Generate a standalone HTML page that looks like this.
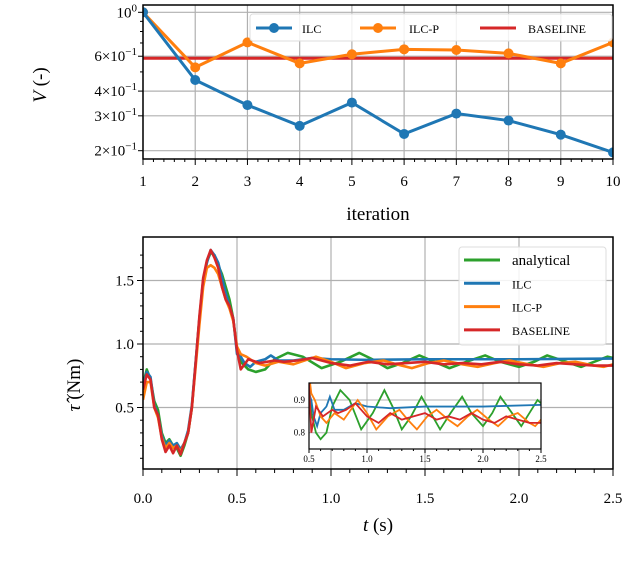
<!DOCTYPE html>
<html><head><meta charset="utf-8"><style>
body{margin:0;background:#fff;width:626px;height:572px;overflow:hidden}
svg{display:block;font-family:"Liberation Serif",serif}
</style></head><body>
<svg id="fig" width="626" height="572" viewBox="0 0 626 572" xmlns="http://www.w3.org/2000/svg">
</svg>
<script>
// ---- top chart data ----
const iterations=[1,2,3,4,5,6,7,8,9,10];
const ilcV=[1.0,0.455,0.34,0.267,0.35,0.243,0.308,0.284,0.241,0.196];
const ilcpV=[1.0,0.527,0.705,0.552,0.614,0.65,0.645,0.62,0.552,0.705];
const baselineV=0.586;
const topYTicks=[1,0.6,0.4,0.3,0.2];
const topYTickLabels=[["10","0"],["6×10","−1"],["4×10","−1"],["3×10","−1"],["2×10","−1"]];
// ---- bottom chart data ----
const transT=[0,0.02,0.04,0.06,0.08,0.1,0.12,0.14,0.16,0.18,0.2,0.22,0.24,0.26,0.28,0.3,0.32,0.34,0.36,0.38,0.4,0.42,0.44,0.46,0.48,0.5];
const anaTransV=[0.68,0.8,0.72,0.55,0.48,0.3,0.22,0.25,0.2,0.18,0.12,0.2,0.3,0.5,0.85,1.2,1.5,1.65,1.72,1.7,1.62,1.55,1.45,1.35,1.2,0.95];
const ilcTransV=[0.66,0.78,0.74,0.52,0.44,0.28,0.2,0.24,0.2,0.22,0.17,0.22,0.32,0.52,0.86,1.2,1.5,1.64,1.74,1.7,1.64,1.52,1.4,1.3,1.2,0.92];
const ilcpTransV=[0.56,0.7,0.7,0.5,0.42,0.26,0.18,0.22,0.18,0.2,0.15,0.22,0.3,0.5,0.82,1.15,1.45,1.6,1.62,1.6,1.55,1.45,1.35,1.28,1.18,0.98];
const baseTransV=[0.64,0.76,0.72,0.5,0.44,0.25,0.15,0.2,0.14,0.2,0.13,0.22,0.3,0.5,0.85,1.22,1.52,1.66,1.74,1.68,1.6,1.45,1.35,1.3,1.2,0.95];
const anaTailT=[0.52,0.56,0.6,0.65,0.7,0.77,0.85,0.95,1.05,1.15,1.22,1.3,1.38,1.47,1.55,1.63,1.72,1.82,1.9,2.0,2.08,2.15,2.25,2.33,2.4,2.47,2.5];
const anaTailV=[0.86,0.8,0.78,0.8,0.88,0.93,0.9,0.81,0.86,0.93,0.88,0.81,0.85,0.91,0.86,0.81,0.86,0.91,0.86,0.82,0.86,0.91,0.86,0.82,0.86,0.9,0.89];
const ilcTailT=[0.52,0.54,0.57,0.6,0.65,0.68,0.72,0.8,0.9,1.0,1.2,1.5,2.0,2.5];
const ilcTailV=[0.9,0.85,0.82,0.86,0.88,0.91,0.87,0.87,0.89,0.88,0.875,0.88,0.88,0.885];
const ilcpTailT=[0.52,0.55,0.6,0.65,0.72,0.8,0.92,1.0,1.08,1.18,1.28,1.35,1.43,1.52,1.6,1.7,1.78,1.87,1.95,2.05,2.13,2.22,2.3,2.4,2.45,2.5];
const ilcpTailV=[0.92,0.9,0.85,0.83,0.86,0.84,0.9,0.86,0.81,0.85,0.87,0.84,0.81,0.85,0.87,0.84,0.82,0.85,0.87,0.84,0.82,0.85,0.86,0.83,0.82,0.84];
const baseTailT=[0.52,0.56,0.62,0.7,0.75,0.82,0.9,1.0,1.1,1.2,1.3,1.4,1.5,1.6,1.7,1.8,1.9,2.0,2.1,2.2,2.3,2.4,2.5];
const baseTailV=[0.8,0.88,0.85,0.87,0.86,0.87,0.89,0.85,0.83,0.86,0.84,0.85,0.86,0.84,0.85,0.84,0.86,0.84,0.83,0.85,0.84,0.83,0.83];
const bottomXTicks=[0,0.5,1.0,1.5,2.0,2.5];
const bottomXTickLabels=["0.0","0.5","1.0","1.5","2.0","2.5"];
const bottomYTicks=[0.5,1.0,1.5];
const bottomYTickLabels=["0.5","1.0","1.5"];
const insetXTicks=[0.5,1.0,1.5,2.0,2.5];
const insetXTickLabels=["0.5","1.0","1.5","2.0","2.5"];
const insetYTicks=[0.8,0.9];
const insetYTickLabels=["0.8","0.9"];

const C={blue:"#1f77b4",orange:"#ff7f0e",red:"#d62728",green:"#2ca02c",grid:"#b0b0b0"};
const svg=document.getElementById('fig');
const NS="http://www.w3.org/2000/svg";
function mk(tag,attrs,parent){const e=document.createElementNS(NS,tag);for(const k in attrs)e.setAttribute(k,attrs[k]);(parent||svg).appendChild(e);return e;}

// ===== TOP =====
const tL=143,tR=613,tT=5,tB=159;
const tx=v=>tL+(v-1)/9*(tR-tL);
const ty=v=>12.3-Math.log10(v)*198;
const gTop=mk('g',{});


mk('defs',{}).innerHTML='<clipPath id="ct"><rect x="143" y="5" width="470" height="154"/></clipPath><clipPath id="cb"><rect x="143" y="237" width="470" height="232"/></clipPath><clipPath id="ci"><rect x="309" y="383" width="232" height="66"/></clipPath>';
iterations.forEach(i=>{const l=mk('line',{x1:tx(i),x2:tx(i),y1:tT,y2:tB,stroke:C.grid,'stroke-width':1.2},gTop);
});
topYTicks.forEach((v,k)=>{const l=mk('line',{x1:tL,x2:tR,y1:ty(v),y2:ty(v),stroke:C.grid,'stroke-width':1.2},gTop);

mk('line',{x1:tL-5,x2:tL,y1:ty(v),y2:ty(v),stroke:'#000','stroke-width':1},gTop);
const t=mk('text',{x:tL-6,y:ty(v)+5,'text-anchor':'end','font-size':15},gTop);

t.innerHTML=topYTickLabels[k][0]+'<tspan dy="-6" font-size="11">'+topYTickLabels[k][1]+'</tspan>';});
[0.9,0.8,0.7,0.5].forEach(v=>mk('line',{x1:tL-3,x2:tL,y1:ty(v),y2:ty(v),stroke:'#000','stroke-width':1},gTop));
iterations.forEach(i=>{mk('line',{x1:tx(i),x2:tx(i),y1:tB,y2:tB+6,stroke:'#000','stroke-width':1},gTop);
const t=mk('text',{x:tx(i),y:tB+27,'text-anchor':'middle','font-size':15},gTop);t.textContent=i;

if(i<10)for(let m=1;m<5;m++)mk('line',{x1:tx(i+m/5),x2:tx(i+m/5),y1:tB,y2:tB+3,stroke:'#000','stroke-width':1},gTop);});
const gTD=mk('g',{'clip-path':'url(#ct)'},gTop);
const bl=mk('line',{x1:tL,x2:tR,y1:ty(baselineV),y2:ty(baselineV),stroke:C.red,'stroke-width':3},gTD);

function series(vals,col,name){const p=mk('polyline',{points:vals.map((v,k)=>tx(iterations[k])+','+ty(v)).join(' '),fill:'none',stroke:col,'stroke-width':3},gTD);

vals.forEach((v,k)=>{const c=mk('circle',{cx:tx(iterations[k]),cy:ty(v),r:5,fill:col},gTD);
});}
series(ilcpV,C.orange,'ilc-p');series(ilcV,C.blue,'ilc');
mk('rect',{x:tL,y:tT,width:tR-tL,height:tB-tT,fill:'none',stroke:'#000','stroke-width':1.5},gTop);
const lgT=mk('g',{},gTop);
mk('rect',{x:250,y:14,width:362,height:27,rx:3,fill:'#fff','fill-opacity':0.85,stroke:'#ddd'},lgT);
[[C.blue,'ILC',256,302,true],[C.orange,'ILC-P',360,409,true],[C.red,'BASELINE',480,528,false]].forEach(e=>{
mk('line',{x1:e[2],x2:e[2]+36,y1:28,y2:28,stroke:e[0],'stroke-width':3},lgT);
if(e[4])mk('circle',{cx:e[2]+18,cy:28,r:5,fill:e[0]},lgT);
const t=mk('text',{x:e[3],y:33,'font-size':12},lgT);t.textContent=e[1];
});
let t1=mk('text',{x:0,y:0,'font-size':19,transform:'translate(46,85) rotate(-90)','text-anchor':'middle'},gTop);
t1.innerHTML='<tspan font-style="italic">V</tspan>  (-)';
t1=mk('text',{x:378,y:220,'font-size':19,'text-anchor':'middle'},gTop);t1.textContent='iteration';


// ===== BOTTOM =====
const bL=143,bR=613,bT=237,bB=469;
const bx=v=>bL+v/2.5*(bR-bL);
const by=v=>344-(v-1)*127;
const gB=mk('g',{});
bottomXTicks.forEach((v,k)=>{mk('line',{x1:bx(v),x2:bx(v),y1:bT,y2:bB,stroke:C.grid,'stroke-width':1.2},gB);
mk('line',{x1:bx(v),x2:bx(v),y1:bB,y2:bB+7,stroke:'#000'},gB);
const t=mk('text',{x:bx(v),y:bB+34,'text-anchor':'middle','font-size':15},gB);t.textContent=bottomXTickLabels[k];
});
for(let v=0;v<2.5;v+=0.1)mk('line',{x1:bx(v),x2:bx(v),y1:bB,y2:bB+4,stroke:'#000'},gB);
bottomYTicks.forEach((v,k)=>{mk('line',{x1:bL,x2:bR,y1:by(v),y2:by(v),stroke:C.grid,'stroke-width':1.2},gB);
mk('line',{x1:bL-6,x2:bL,y1:by(v),y2:by(v),stroke:'#000'},gB);
const t=mk('text',{x:bL-9,y:by(v)+5,'text-anchor':'end','font-size':15},gB);t.textContent=bottomYTickLabels[k];
});
for(let v=0.1;v<1.8;v+=0.1)mk('line',{x1:bL-3,x2:bL,y1:by(v),y2:by(v),stroke:'#000'},gB);
const all=[[anaTransV,anaTailT,anaTailV,C.green,'analytical'],[ilcTransV,ilcTailT,ilcTailV,C.blue,'ilc'],[ilcpTransV,ilcpTailT,ilcpTailV,C.orange,'ilc-p'],[baseTransV,baseTailT,baseTailV,C.red,'baseline']];
const gBD=mk('g',{'clip-path':'url(#cb)'},gB);
all.forEach(s=>{const pts=transT.map((t,k)=>bx(t)+','+by(s[0][k])).concat(s[1].map((t,k)=>bx(t)+','+by(s[2][k])));
const p=mk('polyline',{points:pts.join(' '),fill:'none',stroke:s[3],'stroke-width':2.6,'stroke-linejoin':'round'},gBD);
});
mk('rect',{x:bL,y:bT,width:bR-bL,height:bB-bT,fill:'none',stroke:'#000','stroke-width':1.5},gB);
const lgB=mk('g',{},gB);
mk('rect',{x:459,y:247,width:147,height:98,rx:3,fill:'#fff','fill-opacity':0.85,stroke:'#ddd'},lgB);
[[C.green,'analytical',15],[C.blue,'ILC',12],[C.orange,'ILC-P',12],[C.red,'BASELINE',12]].forEach((e,k)=>{
const y=260+k*23.3;mk('line',{x1:464,x2:500,y1:y,y2:y,stroke:e[0],'stroke-width':3},lgB);
const t=mk('text',{x:512,y:y+5,'font-size':e[2]},lgB);t.textContent=e[1];
});
t1=mk('text',{x:0,y:0,'font-size':19,transform:'translate(80,385) rotate(-90)','text-anchor':'middle'},gB);
t1.innerHTML='<tspan font-style="italic">τ̂</tspan>  (Nm)';
t1=mk('text',{x:378,y:531,'font-size':19,'text-anchor':'middle'},gB);t1.innerHTML='<tspan font-style="italic">t</tspan> (s)';


// ===== INSET =====
const iL=309,iR=541,iT=383,iB=449;
const ix=v=>iL+(v-0.5)/2*(iR-iL);
const iy=v=>400-(v-0.9)*327;
const gI=mk('g',{});
mk('rect',{x:iL,y:iT,width:iR-iL,height:iB-iT,fill:'#fff'},gI);
insetXTicks.forEach((v,k)=>{mk('line',{x1:ix(v),x2:ix(v),y1:iT,y2:iB,stroke:C.grid},gI);
mk('line',{x1:ix(v),x2:ix(v),y1:iB,y2:iB+4,stroke:'#000'},gI);
const t=mk('text',{x:ix(v),y:iB+13,'text-anchor':'middle','font-size':9},gI);t.textContent=insetXTickLabels[k];
});
for(let v=0.5;v<2.5;v+=0.1)mk('line',{x1:ix(v),x2:ix(v),y1:iB,y2:iB+2,stroke:'#000'},gI);
insetYTicks.forEach((v,k)=>{mk('line',{x1:iL,x2:iR,y1:iy(v),y2:iy(v),stroke:C.grid},gI);
const t=mk('text',{x:iL-4,y:iy(v)+3,'text-anchor':'end','font-size':9},gI);t.textContent=insetYTickLabels[k];
});
const gID=mk('g',{'clip-path':'url(#ci)'},gI);
all.forEach(s=>{const pts=transT.map((t,k)=>ix(t)+','+iy(s[0][k])).concat(s[1].map((t,k)=>ix(t)+','+iy(s[2][k])));
const p=mk('polyline',{points:pts.join(' '),fill:'none',stroke:s[3],'stroke-width':1.8},gID);
});
mk('rect',{x:iL,y:iT,width:iR-iL,height:iB-iT,fill:'none',stroke:'#000','stroke-width':1.2},gI);
</script>
</body></html>
